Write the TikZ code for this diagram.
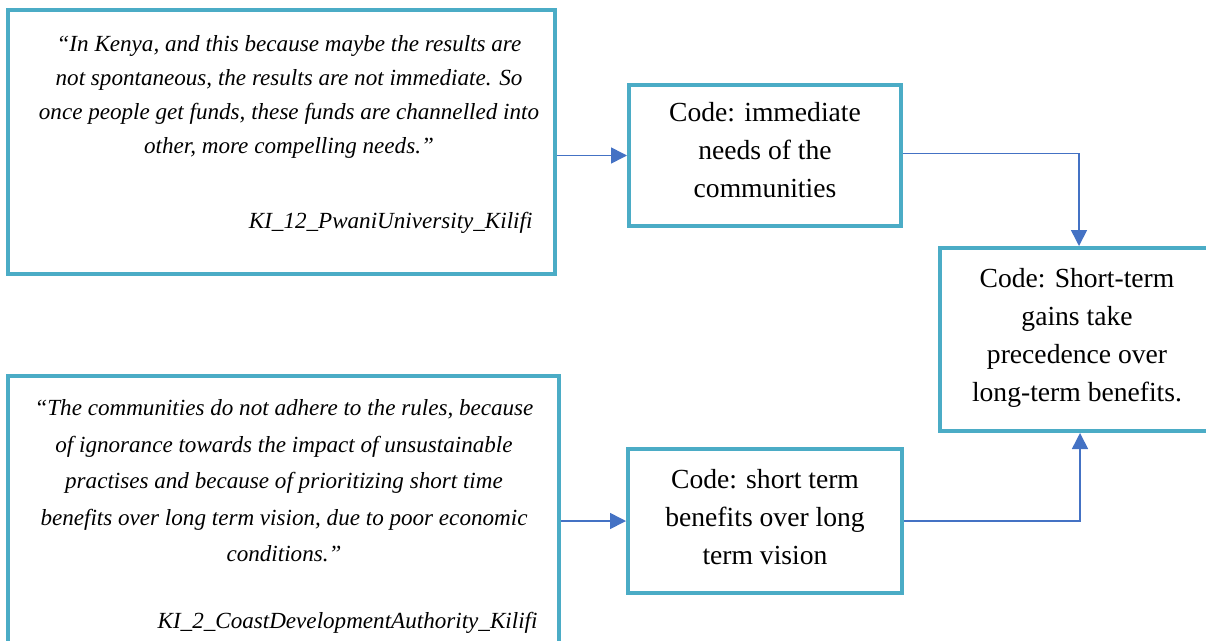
\documentclass[tikz,border=0pt]{standalone}
\usepackage{fontspec}
\setmainfont{Liberation Serif}
\usetikzlibrary{positioning,arrows.meta,calc}
\definecolor{boxteal}{RGB}{75,172,198}
\definecolor{linkblue}{RGB}{68,114,196}

\tikzset{
  box/.style={draw=boxteal,line width=4pt,rectangle,inner sep=0pt},
  codetext/.style={align=center,font=\fontsize{27.6}{38}\selectfont},
  quotetext/.style={align=center,font=\fontsize{23.1}{34}\selectfont\itshape},
  link/.style={draw=linkblue,line width=1.6pt,-{Triangle[length=16pt,width=16pt]}}
}

\begin{document}
\begin{tikzpicture}[x=1pt,y=-1pt]
    \useasboundingbox (0,0) rectangle (1206,640);

    % boxes
    \node[box,minimum width=547pt,minimum height=264pt] (quoteKenya) at (281.5,142) {};
    \node[box,minimum width=272pt,minimum height=141pt] (codeNeeds) at (765,155.5) {};
    \node[box,minimum width=274pt,minimum height=183pt] (codeGains) at (1077,339.5) {};
    \node[box,minimum width=551pt,minimum height=284pt] (quoteCoast) at (283.5,518) {};
    \node[box,minimum width=274pt,minimum height=144pt] (codeBenefits) at (765,521) {};

    % quotes
    \node[quotetext,anchor=north] (txtKenya) at (289,32)
      {``In Kenya, and this because maybe the results are\\
       not spontaneous, the results are not immediate. So\\
       once people get funds, these funds are channelled into\\
       other, more compelling needs.''};
    \node[quotetext,anchor=base east] (srcKenya) at (536,228) {KI\_12\_PwaniUniversity\_Kilifi};

    \node[quotetext,anchor=north,font=\fontsize{23.1}{36.5}\selectfont\itshape] (txtCoast) at (284,396)
      {``The communities do not adhere to the rules, because\\
       of ignorance towards the impact of unsustainable\\
       practises and because of prioritizing short time\\
       benefits over long term vision, due to poor economic\\
       conditions.''};
    \node[quotetext,anchor=base east] (srcCoast) at (541,628) {KI\_2\_CoastDevelopmentAuthority\_Kilifi};

    % codes
    \node[codetext,yshift=5pt] (txtNeeds) at (codeNeeds) {Code: immediate\\ needs of the\\ communities};
    \node[codetext,yshift=2pt] (txtGains) at (codeGains) {Code: Short-term\\ gains take\\ precedence over\\ long-term benefits.};
    \node[codetext,yshift=3.5pt] (txtBenefits) at (codeBenefits) {Code: short term\\ benefits over long\\ term vision};

    % links
    \draw[link] (codeNeeds.west -| quoteKenya.east) -- (codeNeeds.west);
    \draw[link] ([yshift=2pt]codeNeeds.east) -| ([xshift=2pt]codeGains.north);
    \draw[link] (codeBenefits.west -| quoteCoast.east) -- (codeBenefits.west);
    \draw[link] (codeBenefits.east) -| ([xshift=3pt]codeGains.south);
\end{tikzpicture}
\end{document}
